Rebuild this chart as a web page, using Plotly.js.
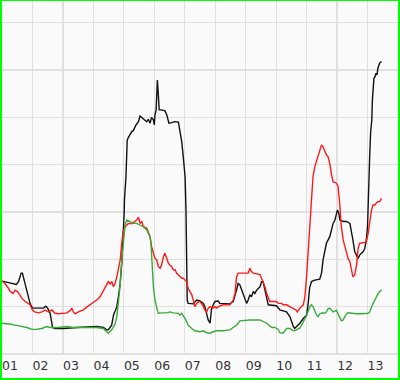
<!DOCTYPE html>
<html>
<head>
<meta charset="utf-8">
<script src="https://cdn.plot.ly/plotly-3.0.1.min.js"></script>
<style>
  html, body { margin: 0; padding: 0; background: #ffffff; }
  #frame {
    position: absolute; left: 0; top: 0;
    width: 400px; height: 380px; box-sizing: border-box;
    border-style: solid; border-color: #00ff00;
    border-width: 1px 2px 2px 2px;
    background: #fafafa;
  }
  #chart { width: 396px; height: 377px; }
</style>
</head>
<body>
<div id="frame"><div id="chart"></div></div>
<script>
// Tick positions (years) and labels
const tickYears = [2001,2002,2003,2004,2005,2006,2007,2008,2009,2010,2011,2012,2013];
const tickLabels = ['01','02','03','04','05','06','07','08','09','10','11','12','13'];

// Black series
const blackX = [2001.00,2001.38,2001.47,2001.54,2001.63,2001.67,2001.73,2001.82,2001.92,2002.00,
  2002.36,2002.44,2002.50,2002.58,2002.66,2002.74,2003.02,2003.46,2004.11,2004.33,
  2004.44,2004.49,2004.60,2004.66,2004.77,2004.82,2004.88,2004.93,2004.96,2004.98,
  2005.01,2005.02,2005.07,2005.11,2005.15,2005.26,2005.31,2005.40,2005.48,2005.53,
  2005.61,2005.66,2005.75,2005.80,2005.86,2005.91,2005.97,2006.00,2006.02,2006.06,
  2006.10,2006.13,2006.16,2006.24,2006.35,2006.41,2006.48,2006.57,2006.68,2006.79,
  2006.84,2006.90,2006.95,2007.01,2007.04,2007.06,2007.08,2007.11,2007.28,2007.39,
  2007.50,2007.61,2007.66,2007.77,2007.83,2007.88,2007.93,2007.99,2008.10,2008.15,
  2008.48,2008.59,2008.70,2008.75,2008.81,2008.92,2009.03,2009.08,2009.14,2009.19,
  2009.25,2009.30,2009.36,2009.47,2009.52,2009.57,2009.63,2009.69,2009.74,2010.01,
  2010.12,2010.34,2010.45,2010.56,2010.61,2010.67,2010.78,2010.89,2011.00,2011.05,
  2011.10,2011.16,2011.27,2011.43,2011.49,2011.54,2011.60,2011.65,2011.76,2011.82,
  2011.87,2011.93,2011.98,2012.01,2012.06,2012.09,2012.20,2012.31,2012.42,2012.47,
  2012.52,2012.58,2012.64,2012.69,2012.74,2012.85,2012.91,2012.96,2013.00,2013.02,
  2013.04,2013.07,2013.10,2013.14,2013.16,2013.18,2013.21,2013.25,2013.27,2013.31,
  2013.34,2013.40,2013.46];
const blackY = [1.54,1.49,1.47,1.53,1.71,1.71,1.56,1.35,1.07,0.97,
  0.97,1.01,0.97,0.86,0.56,0.54,0.54,0.56,0.58,0.56,
  0.51,0.51,0.61,0.82,1.00,1.21,1.49,1.92,2.27,2.62,
  2.97,3.26,3.75,4.52,4.58,4.70,4.72,4.84,4.91,5.03,
  4.98,4.95,4.91,4.96,4.88,5.00,4.95,4.84,5.05,5.16,
  5.79,5.51,5.16,5.16,5.14,5.05,4.88,4.89,4.91,4.90,
  4.74,4.49,4.17,3.75,3.04,1.85,1.14,1.07,1.06,1.14,
  1.12,1.07,1.00,0.72,0.65,0.97,1.04,1.11,1.12,1.07,
  1.06,1.11,1.35,1.49,1.46,1.28,1.07,1.14,1.25,1.21,
  1.32,1.28,1.35,1.42,1.53,1.53,1.35,1.14,1.04,1.02,
  0.93,0.89,0.79,0.59,0.54,0.58,0.65,0.75,0.82,1.06,
  1.40,1.53,1.56,1.58,1.71,1.99,2.20,2.34,2.48,2.62,
  2.76,2.83,2.97,3.04,2.97,2.83,2.80,2.80,2.76,2.62,
  2.41,2.16,2.06,2.02,2.09,2.16,2.23,2.41,2.69,3.26,
  3.68,4.17,4.67,4.95,5.37,5.58,5.83,5.86,5.93,5.90,
  6.04,6.15,6.18];

// Red series
const redX = [2001.00,2001.10,2001.21,2001.27,2001.36,2001.43,2001.51,2001.57,2001.65,2001.76,
  2001.92,2002.00,2002.07,2002.20,2002.31,2002.42,2002.52,2002.64,2002.74,2002.85,
  2003.02,2003.13,2003.26,2003.29,2003.34,2003.40,2003.51,2003.67,2003.78,2003.89,
  2004.00,2004.11,2004.22,2004.33,2004.44,2004.49,2004.55,2004.60,2004.66,2004.71,
  2004.77,2004.82,2004.88,2004.93,2004.98,2005.04,2005.15,2005.26,2005.37,2005.42,
  2005.48,2005.53,2005.59,2005.64,2005.75,2005.86,2005.91,2005.97,2006.02,2006.08,
  2006.13,2006.19,2006.24,2006.30,2006.35,2006.41,2006.46,2006.51,2006.57,2006.62,
  2006.68,2006.73,2006.79,2006.90,2006.95,2007.01,2007.06,2007.11,2007.17,2007.23,
  2007.28,2007.33,2007.39,2007.44,2007.50,2007.55,2007.61,2007.66,2007.72,2007.77,
  2007.83,2007.93,2007.99,2008.05,2008.10,2008.26,2008.48,2008.59,2008.65,2008.70,
  2008.75,2009.08,2009.14,2009.19,2009.25,2009.47,2009.52,2009.57,2009.63,2009.69,
  2009.74,2009.79,2010.01,2010.07,2010.18,2010.23,2010.34,2010.45,2010.56,2010.65,
  2010.69,2010.78,2010.89,2010.94,2011.00,2011.05,2011.10,2011.16,2011.21,2011.27,
  2011.33,2011.38,2011.43,2011.49,2011.54,2011.60,2011.65,2011.70,2011.76,2011.82,
  2011.87,2011.98,2012.03,2012.09,2012.14,2012.20,2012.25,2012.31,2012.36,2012.42,
  2012.47,2012.52,2012.58,2012.64,2012.69,2012.74,2012.85,2012.96,2013.02,2013.07,
  2013.13,2013.18,2013.24,2013.29,2013.34,2013.40,2013.46];
const redY = [1.54,1.49,1.39,1.32,1.28,1.35,1.32,1.25,1.18,1.11,
  1.04,0.93,0.89,0.87,0.89,0.93,0.89,0.93,0.86,0.85,
  0.86,0.87,0.93,0.97,0.89,0.85,0.89,0.93,0.99,1.04,
  1.08,1.14,1.21,1.35,1.49,1.53,1.48,1.53,1.42,1.49,
  1.63,1.78,1.99,2.34,2.59,2.69,2.76,2.75,2.80,2.83,
  2.89,2.76,2.80,2.69,2.66,2.48,2.27,2.13,2.02,1.99,
  1.85,1.81,1.88,2.06,2.13,2.02,1.92,1.88,1.85,1.78,
  1.78,1.71,1.67,1.60,1.60,1.56,1.53,1.39,1.32,1.25,
  1.14,1.00,1.07,1.10,1.11,1.07,1.00,0.93,0.89,0.97,
  1.00,0.97,1.00,0.97,1.00,1.04,1.04,1.14,1.28,1.63,
  1.71,1.71,1.81,1.74,1.71,1.68,1.60,1.49,1.42,1.28,
  1.18,1.11,1.11,1.07,1.07,1.04,1.04,1.00,0.97,0.93,
  0.89,0.97,1.04,1.19,1.65,2.20,2.73,3.30,3.75,3.96,
  4.10,4.17,4.31,4.42,4.38,4.28,4.21,4.17,4.03,3.78,
  3.64,3.61,3.55,3.15,2.69,2.41,2.27,2.16,2.02,1.95,
  1.74,1.63,1.67,1.88,2.23,2.34,2.35,2.37,2.55,2.83,
  3.04,3.15,3.15,3.19,3.22,3.22,3.29];

// Green series
const greenX = [2001.00,2001.32,2001.38,2001.43,2001.60,2001.82,2001.98,2002.14,2002.31,2002.47,
  2002.58,2002.69,2002.85,2003.13,2003.34,2003.67,2004.11,2004.33,2004.44,2004.49,
  2004.60,2004.71,2004.77,2004.82,2004.88,2004.93,2004.98,2005.04,2005.10,2005.20,
  2005.31,2005.42,2005.53,2005.64,2005.75,2005.80,2005.86,2005.89,2005.92,2005.97,
  2006.02,2006.08,2006.13,2006.24,2006.41,2006.51,2006.62,2006.79,2006.84,2006.90,
  2006.95,2007.01,2007.06,2007.11,2007.23,2007.33,2007.50,2007.61,2007.72,2007.83,
  2007.93,2008.05,2008.26,2008.48,2008.59,2008.70,2008.81,2009.14,2009.47,2009.57,
  2009.69,2009.85,2009.96,2010.07,2010.12,2010.23,2010.34,2010.45,2010.56,2010.67,
  2010.78,2010.89,2011.00,2011.10,2011.16,2011.21,2011.27,2011.33,2011.38,2011.43,
  2011.54,2011.60,2011.65,2011.70,2011.76,2011.82,2011.87,2011.98,2012.03,2012.09,
  2012.14,2012.20,2012.25,2012.31,2012.36,2012.47,2012.64,2012.80,2012.96,2013.02,
  2013.07,2013.13,2013.18,2013.24,2013.29,2013.34,2013.40,2013.46];
const greenY = [0.65,0.63,0.61,0.61,0.59,0.56,0.52,0.52,0.54,0.58,
  0.56,0.56,0.56,0.58,0.56,0.56,0.56,0.54,0.47,0.44,
  0.51,0.63,0.79,1.07,1.46,1.95,2.37,2.73,2.83,2.80,
  2.76,2.76,2.73,2.69,2.62,2.55,2.48,2.34,1.85,1.42,
  1.14,1.00,0.86,0.87,0.87,0.89,0.87,0.86,0.82,0.86,
  0.82,0.75,0.68,0.61,0.54,0.49,0.47,0.49,0.45,0.44,
  0.47,0.49,0.49,0.51,0.56,0.61,0.70,0.72,0.72,0.68,
  0.65,0.56,0.56,0.52,0.45,0.44,0.54,0.54,0.49,0.51,
  0.55,0.68,0.82,0.99,1.04,1.00,0.89,0.82,0.79,0.85,
  0.87,0.86,0.89,0.95,0.97,0.93,0.89,0.92,0.85,0.75,
  0.70,0.72,0.78,0.85,0.87,0.86,0.85,0.85,0.85,0.86,
  0.89,1.00,1.07,1.14,1.21,1.27,1.32,1.35];

const traces = [
  {x: blackX, y: blackY, type: 'scatter', mode: 'lines', name: 'black',
   line: {color: '#111111', width: 1.4}},
  {x: redX, y: redY, type: 'scatter', mode: 'lines', name: 'red',
   line: {color: '#ff1a1a', width: 1.4}},
  {x: greenX, y: greenY, type: 'scatter', mode: 'lines', name: 'green',
   line: {color: '#3aaa3a', width: 1.4}}
];

const layout = {
  width: 396, height: 377,
  margin: {l: 0, r: 0, t: 0, b: 24, pad: 0},
  paper_bgcolor: 'rgba(0,0,0,0)',
  plot_bgcolor: '#fafafa',
  showlegend: false,
  font: {family: 'DejaVu Sans, Verdana, sans-serif', size: 12, color: '#333333'},
  xaxis: {
    range: [2001, 2014],
    tickmode: 'array', tickvals: tickYears, ticktext: tickLabels,
    ticks: '', showgrid: true, gridcolor: '#e0e0e0', gridwidth: 1.2,
    zeroline: false, showline: false,
    ticklabelshift: 8, ticklabelstandoff: 2,
    tickfont: {family: 'DejaVu Sans, Verdana, sans-serif', size: 12.5, color: '#333333'},
    fixedrange: true
  },
  yaxis: {
    range: [0, 7.46], dtick: 1, tick0: 0,
    showticklabels: false, ticks: '',
    showgrid: true, gridcolor: '#e0e0e0', gridwidth: 1.2,
    zeroline: true, zerolinecolor: '#e0e0e0', zerolinewidth: 1.2,
    showline: false, fixedrange: true
  }
};

Plotly.newPlot('chart', traces, layout, {displayModeBar: false, staticPlot: true});
</script>
</body>
</html>
